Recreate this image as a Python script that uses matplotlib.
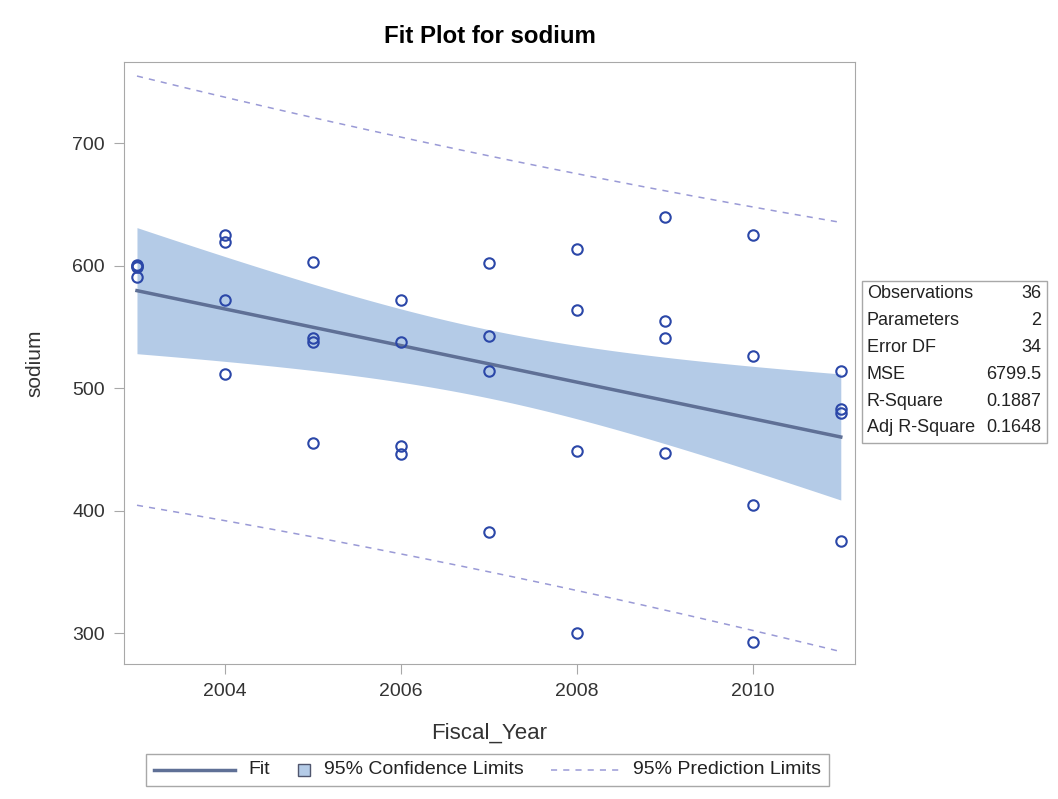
import numpy as np
import matplotlib
matplotlib.use("Agg")
import matplotlib.pyplot as plt
from matplotlib.lines import Line2D
from matplotlib.patches import Rectangle
from matplotlib.offsetbox import DrawingArea, TextArea, HPacker, AnchoredOffsetbox

plt.rcParams["font.family"] = ["Liberation Sans", "DejaVu Sans"]

# observations (4 per fiscal year)
years = [2003, 2003, 2003, 2003,
         2004, 2004, 2004, 2004,
         2005, 2005, 2005, 2005,
         2006, 2006, 2006, 2006,
         2007, 2007, 2007, 2007,
         2008, 2008, 2008, 2008,
         2009, 2009, 2009, 2009,
         2010, 2010, 2010, 2010,
         2011, 2011, 2011, 2011]
sodium = [601, 600, 599, 591,
          625, 619, 572, 512,
          603, 541, 538, 455,
          572, 538, 453, 446,
          602, 543, 514, 383,
          614, 564, 449, 300,
          640, 555, 541, 447,
          625, 526, 405, 293,
          514, 483, 480, 375]

stat_labels = ["Observations", "Parameters", "Error DF", "MSE", "R-Square", "Adj R-Square"]
stat_values = ["36", "2", "34", "6799.5", "0.1887", "0.1648"]
legend_labels = ["Fit", "95% Confidence Limits", "95% Prediction Limits"]

# simple linear regression with 95% confidence / prediction bands
x = np.array(years, dtype=float)
y = np.array(sodium, dtype=float)
n = len(x)
slope, intercept = np.polyfit(x, y, 1)
resid = y - (intercept + slope * x)
mse = np.sum(resid ** 2) / (n - 2)
sxx = np.sum((x - x.mean()) ** 2)
t = 2.0322  # t(0.975, 34)

xs = np.linspace(x.min(), x.max(), 200)
fit = intercept + slope * xs
se_mean = np.sqrt(mse * (1 / n + (xs - x.mean()) ** 2 / sxx))
se_pred = np.sqrt(mse * (1 + 1 / n + (xs - x.mean()) ** 2 / sxx))

fit_color = "#5f7096"
band_color = "#b4cbe7"
pred_color = "#9a9ad6"
pt_color = "#2b47a8"
frame_color = "#a8a8a8"
text_color = "#333333"
dash = (0, (4, 4))

fig = plt.figure(figsize=(10.58, 7.99), dpi=100)
ax = fig.add_axes([0.117, 0.169, 0.691, 0.753])

ax.fill_between(xs, fit - t * se_mean, fit + t * se_mean, color=band_color, lw=0, zorder=1)
ax.plot(xs, fit, color=fit_color, lw=2.5, zorder=2)
ax.plot(xs, fit + t * se_pred, color=pred_color, lw=1.1, ls=dash, zorder=2)
ax.plot(xs, fit - t * se_pred, color=pred_color, lw=1.1, ls=dash, zorder=2)
ax.plot(x, y, "o", mfc="none", mec=pt_color, mew=1.5, ms=7.5, zorder=3)

ax.set_xlim(2002.85, 2011.16)
ax.set_ylim(275, 766)
ax.set_xticks([2004, 2006, 2008, 2010])
ax.set_yticks([300, 400, 500, 600, 700])
ax.tick_params(labelsize=14, labelcolor=text_color, length=7, color=frame_color)
ax.tick_params(axis="x", pad=7)
ax.tick_params(axis="y", pad=6.5)
for s in ax.spines.values():
    s.set_color(frame_color)

ax.set_xlabel("Fiscal_Year", fontsize=16, color=text_color)
ax.xaxis.set_label_coords(0.5, -0.1146)
ax.xaxis.label.set_va("center")
ax.set_ylabel("sodium", fontsize=15, color=text_color)
ax.yaxis.set_label_coords(-0.1218, 0.5)
ax.yaxis.label.set_va("center")
ax.yaxis.label.set_ha("center")

fig.text(0.463, 0.954, "Fit Plot for sodium", ha="center", va="center",
         fontsize=17.3, fontweight="bold")

# fit statistics box
fig.patches.append(Rectangle((862 / 1058, 1 - 443 / 799), 185 / 1058, 162 / 799,
                             transform=fig.transFigure, fill=False,
                             edgecolor=frame_color, lw=1))
for i, (lab, val) in enumerate(zip(stat_labels, stat_values)):
    yy = 1 - (294 + i * 26.8) / 799
    fig.text(867 / 1058, yy, lab, ha="left", va="center", fontsize=13, color="#222222")
    fig.text(1041 / 1058, yy, val, ha="right", va="center", fontsize=13, color="#222222")

# legend at the bottom: handles of different widths
h = 10
da_fit = DrawingArea(58, h)
da_fit.add_artist(Line2D([0, 58], [h / 2, h / 2], color=fit_color, lw=2.5))
da_sq = DrawingArea(8.6, h)
da_sq.add_artist(Rectangle((0, (h - 8.6) / 2), 8.6, 8.6, facecolor=band_color,
                           edgecolor="#50566e", lw=1))
da_pred = DrawingArea(49, h)
da_pred.add_artist(Line2D([0, 49], [h / 2, h / 2], color=pred_color, lw=1.1, ls=dash))

entries = []
for da, lab in zip([da_fit, da_sq, da_pred], legend_labels):
    txt = TextArea(lab, textprops=dict(fontsize=14, color="#222222"))
    entries.append(HPacker(children=[da, txt], align="center", pad=0, sep=10))
row = HPacker(children=entries, align="center", pad=0, sep=20)
leg = AnchoredOffsetbox(loc="center", child=row, pad=0.55, borderpad=0, frameon=True,
                        bbox_to_anchor=(0.4608, 0.0363), bbox_transform=fig.transFigure)
leg.patch.set_edgecolor(frame_color)
leg.patch.set_linewidth(1)
fig.add_artist(leg)

fig.savefig("out.png", dpi=100)
